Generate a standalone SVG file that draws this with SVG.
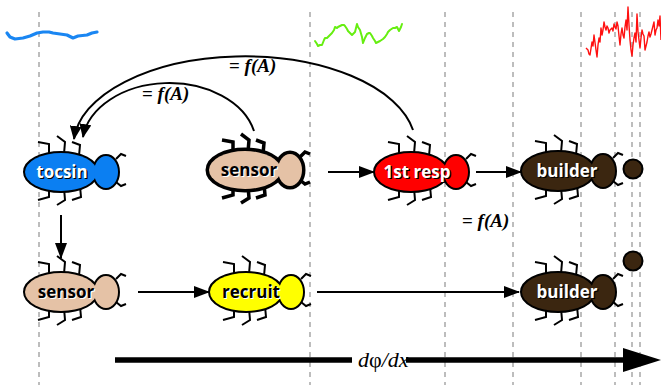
<svg xmlns="http://www.w3.org/2000/svg" xmlns:xlink="http://www.w3.org/1999/xlink" width="661" height="385" viewBox="0 0 661 385">
  <style>
    .guide { stroke: #9a9a9a; stroke-width: 1.3; stroke-dasharray: 5 5; fill: none; }
    .conn { stroke: #000; stroke-width: 2; fill: none; }
    .lbl { font-family: "Open Sans", "Liberation Sans", Arial, sans-serif; font-weight: bold; font-size: 17px; text-anchor: middle; }
    .fa { font-family: "Liberation Serif", "Times New Roman", serif; font-weight: bold; font-size: 19px; }
    .trace { fill: none; stroke-linejoin: round; stroke-linecap: round; }
  </style>
  <defs>
    <marker id="ah" markerUnits="userSpaceOnUse" viewBox="0 0 16 12" markerWidth="16" markerHeight="12" refX="15" refY="6" orient="auto">
      <path d="M0,0 L16,6 L0,12 z" fill="#000"/>
    </marker>
    <marker id="ah-curve" markerUnits="userSpaceOnUse" viewBox="0 0 14 12" markerWidth="14" markerHeight="12" refX="13" refY="6" orient="auto">
      <path d="M0,0 L14,6 L0,12 z" fill="#000"/>
    </marker>
    <!-- six legs and two antennae, drawn around the body centre -->
    <g id="bug-legs" fill="none" stroke="#000" stroke-linejoin="miter">
      <polyline points="-23,-30 -12,-28 -12,-18"/>
      <polyline points="-4,-36 4,-30 3,-18"/>
      <polyline points="11,-30 19,-27 18,-16"/>
      <polyline points="-23,28 -12,25 -12,16"/>
      <polyline points="-4,33 4,28 3,16"/>
      <polyline points="11,28 20,25 19,14"/>
      <polyline points="55,-13 60,-18 65,-16"/>
      <polyline points="55,10 60,14 65,12"/>
    </g>
    <!-- abdomen and head -->
    <g id="bug-body">
      <ellipse cx="0" cy="0" rx="36" ry="19"/>
      <ellipse cx="45" cy="0" rx="12" ry="16"/>
    </g>
  </defs>

  <rect width="661" height="385" fill="#fff"/>

  <!-- dashed guide lines -->
  <g id="guides">
    <line class="guide" x1="39" y1="12" x2="39" y2="385"/>
    <line class="guide" x1="310" y1="12" x2="310" y2="385"/>
    <line class="guide" x1="445" y1="12" x2="445" y2="385"/>
    <line class="guide" x1="513" y1="12" x2="513" y2="385"/>
    <line class="guide" x1="581" y1="12" x2="581" y2="385"/>
    <line class="guide" x1="615" y1="12" x2="615" y2="385"/>
    <line class="guide" x1="632" y1="12" x2="632" y2="385"/>
    <line class="guide" x1="640" y1="12" x2="640" y2="385"/>
  </g>

  <!-- signal traces -->
  <g id="traces">
    <polyline class="trace" stroke="#1a86f2" stroke-width="3.2" points="7,33 10,37 15,39 23,38 30,36 37,33 43,32 49,32 53,33 60,34 67,35 73,38 78,36 87,35 92,33 97,32"/>
    <polyline class="trace" stroke="#66ee11" stroke-width="2" points="315,41 317,44 318,46 320,45 322,45 324,40 325,38 327,38 328,37 330,35 332,33 334,30 335,27 337,28 338,27 340,26 342,25 344,25 345,26 347,29 348,31 350,33 352,35 354,33 355,32 356,28 357,24 358,27 360,30 362,37 363,43 365,38 367,34 369,33 370,33 372,36 373,38 375,41 376,43 378,42 380,41 383,39 385,37 387,34 388,32 390,30 393,28 395,28 397,27 398,29 399,31 401,27 402,24"/>
    <polyline fill="none" stroke="#ff1010" stroke-width="1.4" stroke-linejoin="round" points="586,48 588,50 589,54 590,55 592,42 593,46 594,35 596,50 597,57 598,45 599,38 600,42 601,28 602,35 603,30 604,22 605,27 606,30 607,26 608,28 609,33 610,30 612,28 613,31 614,24 615,27 616,29 617,22 618,26 619,36 620,45 621,34 622,28 623,35 624,38 625,27 626,20 627,30 628,7 629,25 630,40 631,50 632,56 633,45 634,38 635,33 636,42 637,14 638,32 639,40 640,48 641,38 642,30 643,34 644,36 645,50 646,46 647,42 648,36 649,32 650,37 651,34 652,30 653,26 654,22 655,35 656,30 657,28 658,20 659,26 660,16 661,40"/>
  </g>

  <!-- connectors -->
  <g id="connectors">
    <path class="conn" d="M413,130 A171,89 0 0 0 74,139" marker-end="url(#ah-curve)"/>
    <path class="conn" d="M254,131 A87,62 0 0 0 83,137" marker-end="url(#ah-curve)"/>
    <line class="conn" x1="328" y1="172" x2="374" y2="172" marker-end="url(#ah)"/>
    <line class="conn" x1="476" y1="172" x2="521" y2="172" marker-end="url(#ah)"/>
    <line class="conn" x1="61" y1="215" x2="61" y2="258" marker-end="url(#ah)"/>
    <line class="conn" x1="138" y1="292" x2="209" y2="292" marker-end="url(#ah)"/>
    <line class="conn" stroke-width="1.4" x1="317" y1="292" x2="519" y2="292" marker-end="url(#ah)"/>
    <!-- gradient axis -->
    <line x1="115" y1="360" x2="352" y2="360" stroke="#000" stroke-width="5.5"/>
    <line x1="406" y1="360" x2="626" y2="360" stroke="#000" stroke-width="5.5"/>
    <polygon points="623,348 661,360 623,372" fill="#000"/>
    <text x="358" y="367" font-family="Liberation Serif, 'Times New Roman', serif" font-size="22"><tspan font-style="italic">d</tspan>φ<tspan font-style="italic">/dx</tspan></text>
  </g>

  <!-- rate labels -->
  <g id="labels">
    <text class="fa" x="229" y="72">= <tspan font-style="italic">f(A)</tspan></text>
    <text class="fa" x="142" y="100">= <tspan font-style="italic">f(A)</tspan></text>
    <text class="fa" x="462" y="227">= <tspan font-style="italic">f(A)</tspan></text>
  </g>

  <!-- top row -->
  <g id="tocsin" transform="translate(61,172)">
    <use xlink:href="#bug-legs" stroke-width="2"/>
    <use xlink:href="#bug-body" fill="#0b7ff2" stroke="#000" stroke-width="4"/>
    <use xlink:href="#bug-body" fill="#0b7ff2"/>
    <text class="lbl" x="2.2" y="7.2" fill="#000">tocsin</text>
    <text class="lbl" x="1" y="6" fill="#fff">tocsin</text>
  </g>

  <g id="sensor-top" transform="translate(245,170)">
    <use xlink:href="#bug-legs" stroke-width="3.5"/>
    <use xlink:href="#bug-body" fill="#e5c2a6" stroke="#000" stroke-width="7"/>
    <use xlink:href="#bug-body" fill="#e5c2a6"/>
    <text class="lbl" x="5.2" y="7.2" fill="#fff">sensor</text>
    <text class="lbl" x="4" y="6" fill="#000">sensor</text>
  </g>

  <g id="first-resp" transform="translate(411,172)">
    <use xlink:href="#bug-legs" stroke-width="2"/>
    <use xlink:href="#bug-body" fill="#ff0000" stroke="#000" stroke-width="4"/>
    <use xlink:href="#bug-body" fill="#ff0000"/>
    <text class="lbl" x="7.2" y="7.2" fill="#000">1st resp</text>
    <text class="lbl" x="6" y="6" fill="#fff">1st resp</text>
  </g>

  <g id="builder-top" transform="translate(558,171)">
    <use xlink:href="#bug-legs" stroke-width="2"/>
    <use xlink:href="#bug-body" fill="#3b2610" stroke="#000" stroke-width="4"/>
    <use xlink:href="#bug-body" fill="#3b2610"/>
    <text class="lbl" x="10.2" y="7.2" fill="#000">builder</text>
    <text class="lbl" x="9" y="6" fill="#fff">builder</text>
  </g>
  <g id="pellet-top">
    <circle cx="633" cy="169" r="9.5" fill="#3b2610" stroke="#000" stroke-width="2"/>
  </g>

  <!-- bottom row -->
  <g id="sensor-bottom" transform="translate(61,292)">
    <use xlink:href="#bug-legs" stroke-width="2"/>
    <use xlink:href="#bug-body" fill="#e5c2a6" stroke="#000" stroke-width="4"/>
    <use xlink:href="#bug-body" fill="#e5c2a6"/>
    <text class="lbl" x="6.2" y="7.2" fill="#fff">sensor</text>
    <text class="lbl" x="5" y="6" fill="#000">sensor</text>
  </g>

  <g id="recruit" transform="translate(246,292)">
    <use xlink:href="#bug-legs" stroke-width="2"/>
    <use xlink:href="#bug-body" fill="#ffff00" stroke="#000" stroke-width="4"/>
    <use xlink:href="#bug-body" fill="#ffff00"/>
    <text class="lbl" x="6.2" y="7.2" fill="#fff">recruit</text>
    <text class="lbl" x="5" y="6" fill="#000">recruit</text>
  </g>

  <g id="builder-bottom" transform="translate(558,292)">
    <use xlink:href="#bug-legs" stroke-width="2"/>
    <use xlink:href="#bug-body" fill="#3b2610" stroke="#000" stroke-width="4"/>
    <use xlink:href="#bug-body" fill="#3b2610"/>
    <text class="lbl" x="10.2" y="7.2" fill="#000">builder</text>
    <text class="lbl" x="9" y="6" fill="#fff">builder</text>
  </g>
  <g id="pellet-bottom">
    <circle cx="633" cy="261" r="9.5" fill="#3b2610" stroke="#000" stroke-width="2"/>
  </g>
</svg>
